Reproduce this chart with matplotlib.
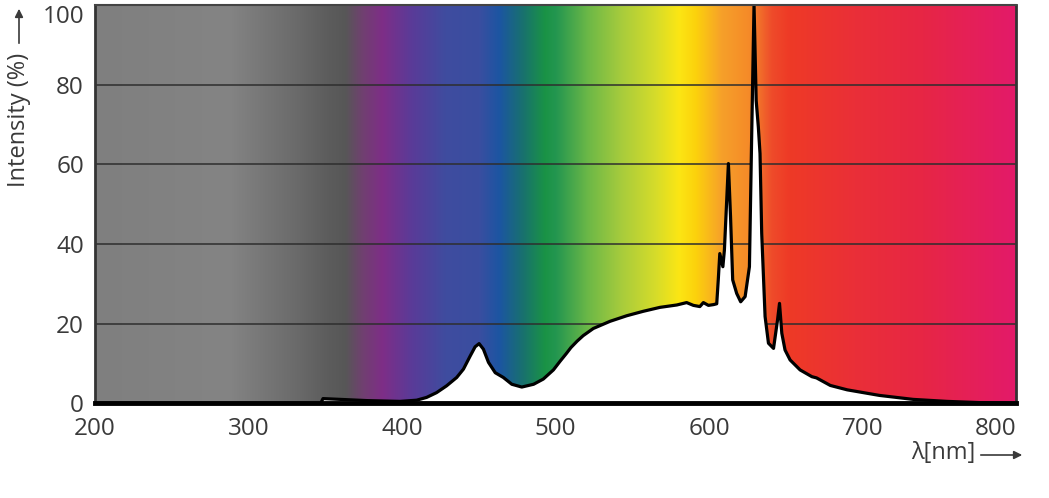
import numpy as np
import matplotlib
matplotlib.use("Agg")
import matplotlib.pyplot as plt
from matplotlib.colors import to_rgb

plt.rcParams['font.family'] = ['Open Sans', 'DejaVu Sans']

# spectrum (nm, % intensity)
wavelength = [200, 347, 348.5, 360, 377, 398.7, 409.5, 416, 422.5, 429, 435.6, 440,
              444.4, 447.6, 450.2, 453, 456.3, 460.7, 466, 471.5, 478, 485.7, 492,
              498.6, 503, 507, 510, 514, 518, 524.6, 535.5, 546.4, 557, 568, 579,
              585.4, 589.8, 594, 596.3, 599.6, 603, 605, 606, 607, 609, 610, 612.6,
              614, 615.4, 618, 620.6, 623.5, 626.3, 627.8, 629.3, 630.7, 632.1, 633.2,
              634.3, 636.5, 638.7, 642, 644.6, 645.9, 647.4, 649.5, 652.8, 659.3, 667,
              670, 679, 690, 711, 733, 755, 776, 800]
intensity = [0, 0, 1.2, 1.0, 0.7, 0.5, 0.8, 1.5, 2.7, 4.4, 6.5, 8.6,
             11.9, 14.2, 15.0, 13.6, 10.3, 7.7, 6.5, 4.8, 4.1, 4.8, 6.1,
             8.4, 10.6, 12.5, 14.0, 15.6, 17.0, 18.8, 20.6, 22.0, 23.1, 24.1, 24.7,
             25.3, 24.6, 24.3, 25.3, 24.6, 24.8, 25.0, 31.0, 37.6, 34.3, 38.5, 60.2,
             46.8, 31.0, 27.6, 25.5, 26.8, 34.3, 67.8, 100.0, 76.0, 69.4, 62.7,
             42.7, 21.8, 15.1, 13.8, 20.9, 25.1, 17.6, 13.4, 10.9, 8.4, 6.7,
             6.4, 4.5, 3.4, 2.0, 1.0, 0.5, 0.2, 0.0]

x_ticks = [200, 300, 400, 500, 600, 700, 800]
y_ticks = [0, 20, 40, 60, 80, 100]

# background colour stops (nm, colour)
bg_nm = [200, 287, 309, 330, 352, 363, 374, 387, 406, 428, 450, 463, 478, 493,
         500, 521, 543, 565, 580, 591, 608, 626, 630, 641, 652, 695, 739, 800]
bg_col = ['#7f7f7f', '#848484', '#777777', '#6b6b6b', '#5c5c5c', '#575757', '#704070',
          '#7e2e87', '#5a3b98', '#3f4c9f', '#3a4ea0', '#1c55a2', '#187070', '#1a9345',
          '#239650', '#6cb847', '#a8cc3c', '#d6dc2a', '#fbe614', '#fcd20c', '#f6a02a',
          '#f58a28', '#f27a2a', '#ee4a2a', '#ee3a26', '#ea2f38', '#e72645', '#e31a6a']

fig = plt.figure(figsize=(10.49, 4.98), dpi=100)
ax = fig.add_axes([0.0906, 0.19, 0.878, 0.80])

xs = np.linspace(200, 800, 1200)
rgb = np.array([to_rgb(c) for c in bg_col])
grad = np.stack([np.interp(xs, bg_nm, rgb[:, k]) for k in range(3)], axis=-1)
ax.imshow(grad[np.newaxis, :, :], extent=[200, 800, 0, 100], aspect='auto',
          interpolation='bilinear', zorder=0)

for yv in y_ticks[1:-1]:
    ax.axhline(yv, color='#2e2e2e', lw=1.1, zorder=1)

ax.fill_between(wavelength, 0, intensity, color='white', lw=0, zorder=2)
ax.plot(wavelength, intensity, color='black', lw=2.3, zorder=3,
        solid_joinstyle='round', solid_capstyle='round')

ax.set_xlim(200, 800)
ax.set_ylim(0, 100)
ax.set_xticks(x_ticks)
ax.set_yticks(y_ticks)
ax.tick_params(length=0, labelsize=17.5, labelcolor='#3a3a3a')
ax.tick_params(axis='x', pad=10)
ax.tick_params(axis='y', pad=8)
ax.get_xticklabels()[-1].set_horizontalalignment('right')
ax.get_yticklabels()[-1].set_verticalalignment('top')

ax.spines['top'].set_color('#444444')
ax.spines['top'].set_linewidth(1.5)
ax.spines['left'].set_color('#333333')
ax.spines['left'].set_linewidth(2)
ax.spines['right'].set_color('#333333')
ax.spines['right'].set_linewidth(2)
ax.spines['bottom'].set_color('black')
ax.spines['bottom'].set_linewidth(3.5)
for s in ax.spines.values():
    s.set_zorder(4)

# axis labels with arrows
fig.text(19 / 1049, 1 - 120 / 498, 'Intensity (%)', rotation=90, ha='center', va='center',
         fontsize=17, color='#3a3a3a')
ax.annotate('', xy=(19 / 1049, 1 - 6 / 498), xytext=(19 / 1049, 1 - 46 / 498),
            xycoords='figure fraction', textcoords='figure fraction',
            arrowprops=dict(arrowstyle='-|>', color='#3a3a3a', lw=1.2, mutation_scale=12))

fig.text(943 / 1049, 1 - 453 / 498, 'λ[nm]', ha='center', va='center',
         fontsize=17, color='#3a3a3a')
ax.annotate('', xy=(1025 / 1049, 1 - 455 / 498), xytext=(978 / 1049, 1 - 455 / 498),
            xycoords='figure fraction', textcoords='figure fraction',
            arrowprops=dict(arrowstyle='-|>', color='#3a3a3a', lw=1.2, mutation_scale=12))

fig.savefig('out.png', dpi=100)
